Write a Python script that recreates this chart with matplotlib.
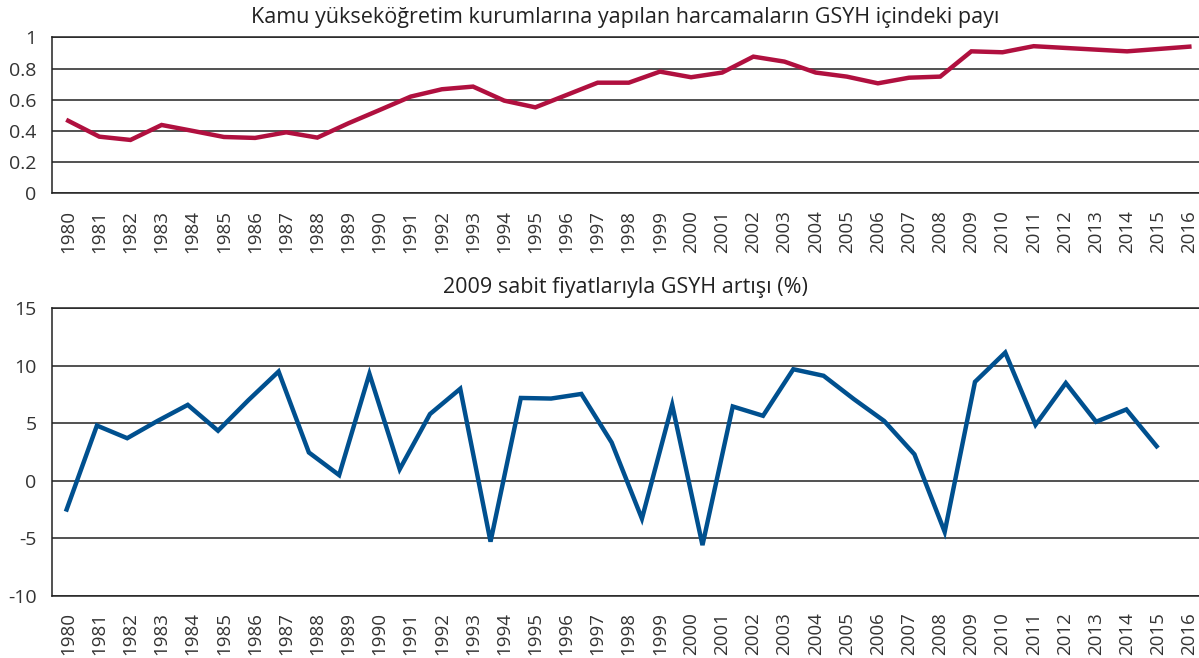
import matplotlib
matplotlib.use("Agg")
import matplotlib.pyplot as plt

plt.rcParams['font.family'] = ['Open Sans', 'DejaVu Sans']

years = [str(y) for y in range(1980, 2017)]

share = [0.465, 0.363, 0.342, 0.438, 0.400, 0.361, 0.355, 0.391, 0.357, 0.449,
         0.534, 0.620, 0.667, 0.684, 0.594, 0.551, 0.630, 0.709, 0.709, 0.780,
         0.744, 0.774, 0.876, 0.844, 0.774, 0.748, 0.705, 0.741, 0.748, 0.910,
         0.904, 0.943, 0.932, 0.921, 0.910, 0.925, 0.940]

growth = [-2.5, 4.8, 3.7, 5.2, 6.6, 4.35, 7.0, 9.5, 2.46, 0.49,
          9.3, 1.0, 5.8, 8.0, -5.3, 7.2, 7.15, 7.55, 3.33, -3.3,
          6.6, -5.6, 6.46, 5.65, 9.7, 9.13, 7.1, 5.2, 2.3, -4.45,
          8.6, 11.15, 4.87, 8.5, 5.13, 6.2, 3.0]

title_top = "Kamu yükseköğretim kurumlarına yapılan harcamaların GSYH içindeki payı"
title_bottom = "2009 sabit fiyatlarıyla GSYH artışı (%)"

RED = '#B0103F'
BLUE = '#00508F'
GRID = '#222222'
TXT = '#333333'

W, H = 1199, 658
fig = plt.figure(figsize=(W / 100, H / 100), dpi=100)

xlim = (-0.52, 36.31)
left = 52 / W
width = 1 - left


def style(ax, yticks, ylabels):
    ax.set_xlim(*xlim)
    ax.set_yticks(yticks)
    ax.set_yticklabels(ylabels)
    ax.set_ylim(yticks[0], yticks[-1])
    ax.set_xticks(range(len(years)))
    ax.set_xticklabels(years, rotation=90)
    for s in ['top', 'right', 'bottom']:
        ax.spines[s].set_visible(False)
    ax.spines['left'].set_color(GRID)
    ax.spines['left'].set_linewidth(1.1)
    ax.grid(axis='y', color=GRID, linewidth=1.1)
    ax.set_axisbelow(True)
    ax.tick_params(axis='y', length=0, pad=11, labelsize=14, labelcolor=TXT)
    ax.tick_params(axis='x', length=0, pad=12, labelsize=13.5, labelcolor=TXT)
    for yv in (yticks[0], yticks[-1]):
        ax.axhline(yv, color=GRID, linewidth=1.1, zorder=1, clip_on=False)


# top chart
ax1 = fig.add_axes([left, 1 - 193.3 / H, width, 156 / H])
style(ax1, [0, 0.2, 0.4, 0.6, 0.8, 1.0], ['0', '0.2', '0.4', '0.6', '0.8', '1'])
ax1.plot(range(len(share)), share, color=RED, linewidth=3.2, solid_joinstyle='miter', zorder=3)

# bottom chart
ax2 = fig.add_axes([left, 1 - 595.7 / H, width, 287.4 / H])
style(ax2, [-10, -5, 0, 5, 10, 15], ['-10', '-5', '0', '5', '10', '15'])
ax2b = ax2.twiny()
ax2b.set_xlim((xlim[0] + 0.05) * 36 / 35, (xlim[1] + 0.05) * 36 / 35)
ax2b.set_ylim(-10, 15)
ax2b.axis('off')
ax2b.plot(range(len(growth)), growth, color=BLUE, linewidth=3.2, solid_joinstyle='miter', zorder=3)

cx = (52 + W) / 2 / W
fig.text(cx, 1 - 17 / H, title_top, ha='center', va='center', fontsize=15.5, color='#222222')
fig.text(cx, 1 - 287 / H, title_bottom, ha='center', va='center', fontsize=15.5, color='#222222')

fig.savefig('out.png', dpi=100)
